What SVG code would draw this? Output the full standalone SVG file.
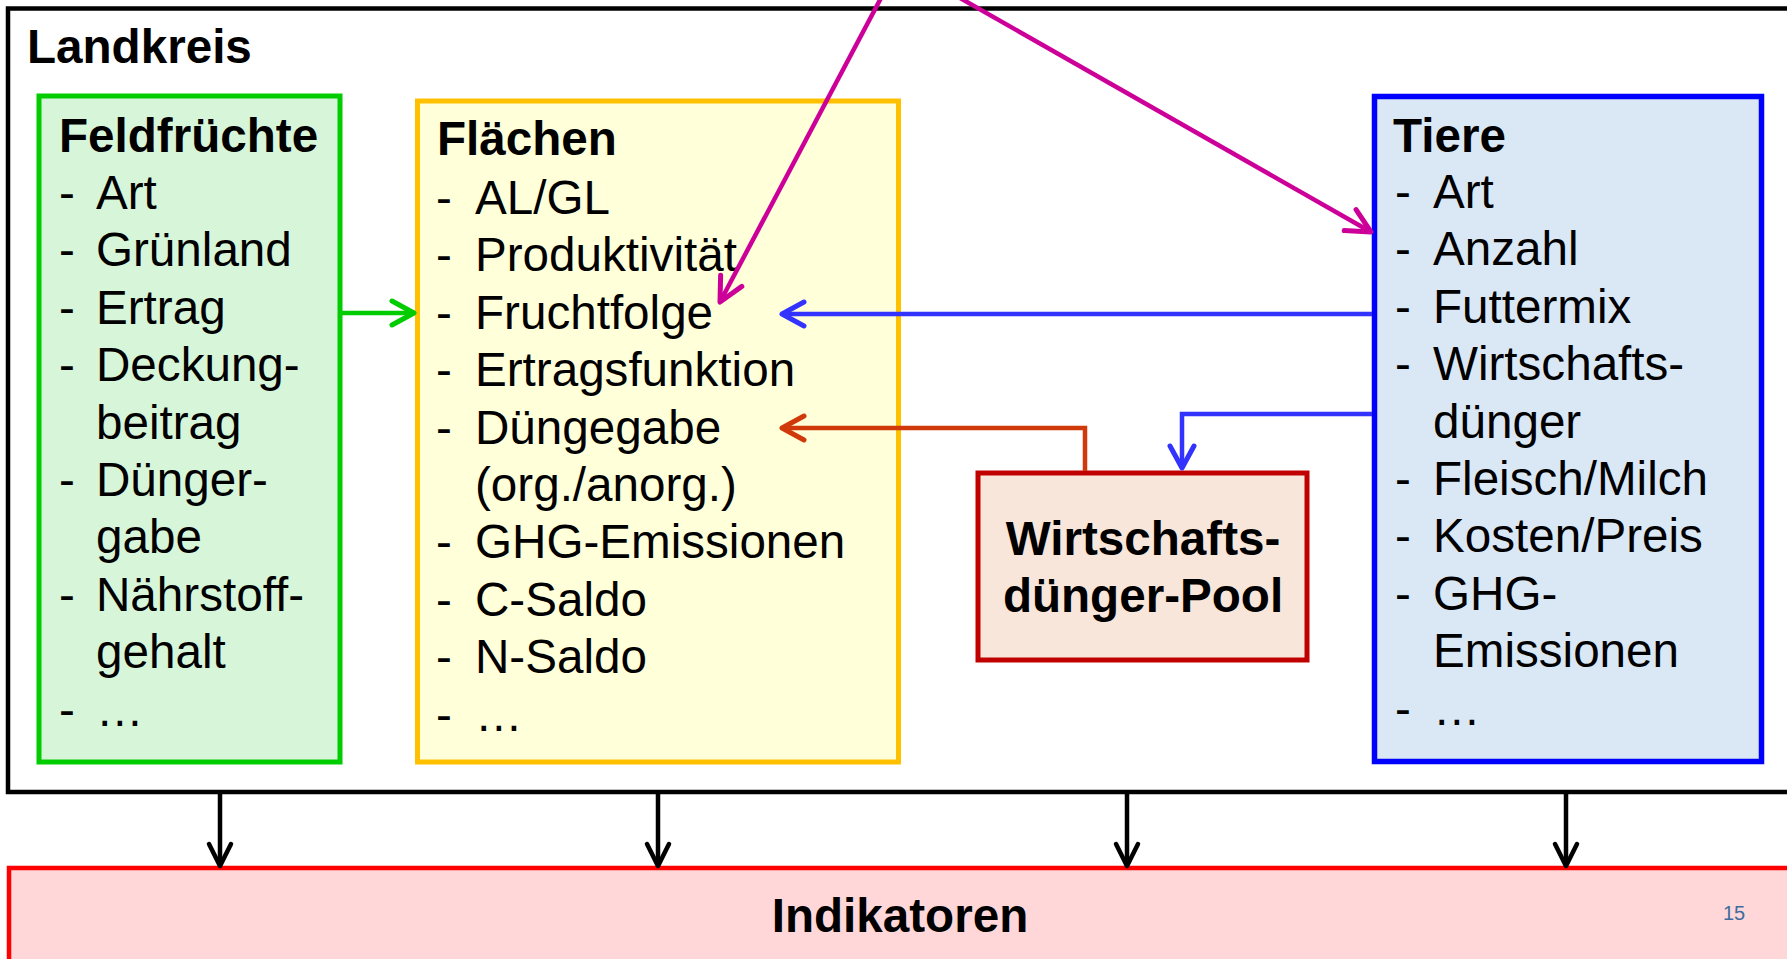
<svg xmlns="http://www.w3.org/2000/svg" width="1787" height="959" viewBox="0 0 1787 959">
<defs>
<style>
text{font-family:"Liberation Sans",Arial,sans-serif;font-size:47.6px;fill:#000}
.b{font-weight:bold}
.c{text-anchor:middle}
.box{stroke-width:5}
.ln{fill:none;stroke-width:4.5;stroke-linecap:butt}
</style>
<marker id="mG" markerUnits="userSpaceOnUse" orient="auto" refX="0" refY="0" overflow="visible"><path d="M-22,-12 L0,0 L-22,12" fill="none" stroke="#00CC00" stroke-width="5" stroke-linecap="round" stroke-linejoin="round"/></marker>
<marker id="mB" markerUnits="userSpaceOnUse" orient="auto" refX="0" refY="0" overflow="visible"><path d="M-22,-12 L0,0 L-22,12" fill="none" stroke="#3333FF" stroke-width="5" stroke-linecap="round" stroke-linejoin="round"/></marker>
<marker id="mR" markerUnits="userSpaceOnUse" orient="auto" refX="0" refY="0" overflow="visible"><path d="M-22,-12 L0,0 L-22,12" fill="none" stroke="#D03A0A" stroke-width="5" stroke-linecap="round" stroke-linejoin="round"/></marker>
<marker id="mM" markerUnits="userSpaceOnUse" orient="auto" refX="0" refY="0" overflow="visible"><path d="M-24,-12 L0,0 L-24,12" fill="none" stroke="#CC0099" stroke-width="5" stroke-linecap="round" stroke-linejoin="round"/></marker>
<marker id="mK" markerUnits="userSpaceOnUse" orient="auto" refX="0" refY="0" overflow="visible"><path d="M-22,-11 L0,0 L-22,11" fill="none" stroke="#000" stroke-width="4.5" stroke-linecap="round" stroke-linejoin="round"/></marker>
</defs>
<rect width="1787" height="959" fill="#FFFFFF"/>

<g id="landkreis">
<rect x="8" y="8.5" width="1800" height="783.5" fill="#FFFFFF" stroke="#000" stroke-width="4.5"/>
<text x="27" y="63" class="b">Landkreis</text>
</g>

<g id="indikatoren">
<rect x="9" y="868" width="1800" height="200" fill="#FFD7D9" stroke="#FF0000" stroke-width="4.5"/>
<text x="900" y="932" class="b c">Indikatoren</text>
<text x="1723" y="920" style="font-size:20px;fill:#3D6C9C">15</text>
</g>

<g id="feldfruechte">
<rect x="39" y="96" width="301" height="666" fill="#D7F5D9" stroke="#00CC00" class="box"/>
<text x="59" y="152" class="b">Feldfrüchte</text>
<g>
<text x="59" y="209">-</text><text x="96" y="209">Art</text>
<text x="59" y="266.4">-</text><text x="96" y="266.4">Grünland</text>
<text x="59" y="323.8">-</text><text x="96" y="323.8">Ertrag</text>
<text x="59" y="381.2">-</text><text x="96" y="381.2">Deckung-</text>
<text x="96" y="438.6">beitrag</text>
<text x="59" y="496">-</text><text x="96" y="496">Dünger-</text>
<text x="96" y="553.4">gabe</text>
<text x="59" y="610.8">-</text><text x="96" y="610.8">Nährstoff-</text>
<text x="96" y="668.2">gehalt</text>
<text x="59" y="725.6">-</text><text x="96" y="725.6">…</text>
</g>
</g>

<g id="flaechen">
<rect x="417.5" y="101" width="481" height="661" fill="#FFFFD9" stroke="#FFC000" class="box"/>
<text x="437" y="155" class="b">Flächen</text>
<text x="436" y="214">-</text><text x="475" y="214">AL/GL</text>
<text x="436" y="271.4">-</text><text x="475" y="271.4">Produktivität</text>
<text x="436" y="328.8">-</text><text x="475" y="328.8">Fruchtfolge</text>
<text x="436" y="386.2">-</text><text x="475" y="386.2">Ertragsfunktion</text>
<text x="436" y="443.6">-</text><text x="475" y="443.6">Düngegabe</text>
<text x="475" y="501">(org./anorg.)</text>
<text x="436" y="558.4">-</text><text x="475" y="558.4">GHG-Emissionen</text>
<text x="436" y="615.8">-</text><text x="475" y="615.8">C-Saldo</text>
<text x="436" y="673.2">-</text><text x="475" y="673.2">N-Saldo</text>
<text x="436" y="730.6">-</text><text x="475" y="730.6">…</text>
</g>

<g id="tiere">
<rect x="1374.5" y="96.5" width="387" height="665" fill="#DAE8F5" stroke="#0000FF" stroke-width="5.5"/>
<text x="1393" y="152" class="b">Tiere</text>
<text x="1395" y="208">-</text><text x="1433" y="208">Art</text>
<text x="1395" y="265.4">-</text><text x="1433" y="265.4">Anzahl</text>
<text x="1395" y="322.8">-</text><text x="1433" y="322.8">Futtermix</text>
<text x="1395" y="380.2">-</text><text x="1433" y="380.2">Wirtschafts-</text>
<text x="1433" y="437.6">dünger</text>
<text x="1395" y="495">-</text><text x="1433" y="495">Fleisch/Milch</text>
<text x="1395" y="552.4">-</text><text x="1433" y="552.4">Kosten/Preis</text>
<text x="1395" y="609.8">-</text><text x="1433" y="609.8">GHG-</text>
<text x="1433" y="667.2">Emissionen</text>
<text x="1395" y="724.6">-</text><text x="1433" y="724.6">…</text>
</g>

<g id="pool">
<rect x="978" y="473" width="329" height="187" fill="#F8E6DA" stroke="#C00000" class="box"/>
<text x="1143" y="555" class="b c">Wirtschafts-</text>
<text x="1143" y="612" class="b c">dünger-Pool</text>
</g>

<g id="connectors">
<path d="M342,313 H414" class="ln" stroke="#00CC00" marker-end="url(#mG)"/>
<path d="M1372,314 H782" class="ln" stroke="#3333FF" marker-end="url(#mB)"/>
<path d="M1372,414 H1182 V468" class="ln" stroke="#3333FF" stroke-linejoin="miter" marker-end="url(#mB)"/>
<path d="M1085,471 V428 H782" class="ln" stroke="#D03A0A" stroke-linejoin="miter" marker-end="url(#mR)"/>
<path d="M881,-2 L720,302" class="ln" stroke="#CC0099" marker-end="url(#mM)"/>
<path d="M960,-2 L1371,232" class="ln" stroke="#CC0099" marker-end="url(#mM)"/>
<path d="M220,794 V866" class="ln" stroke="#000" marker-end="url(#mK)"/>
<path d="M658,794 V866" class="ln" stroke="#000" marker-end="url(#mK)"/>
<path d="M1127,794 V866" class="ln" stroke="#000" marker-end="url(#mK)"/>
<path d="M1566,794 V866" class="ln" stroke="#000" marker-end="url(#mK)"/>
</g>
</svg>
